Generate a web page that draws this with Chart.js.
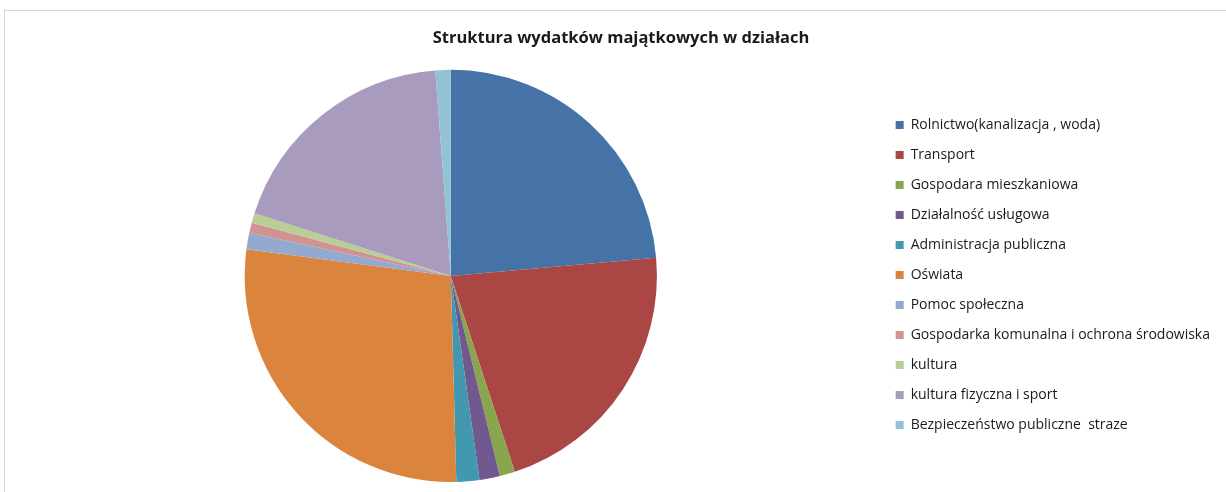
<!DOCTYPE html>
<html>
<head>
<meta charset="utf-8">
<script src="https://cdn.jsdelivr.net/npm/chart.js@4/dist/chart.umd.min.js"></script>
<style>
  html, body { margin: 0; padding: 0; background: #fff; }
  #wrap { position: relative; width: 1226px; height: 492px; }
  #frame { position: absolute; left: 4px; top: 10px; right: 0; bottom: 0; border-top: 1px solid #d4d4d4; border-left: 1px solid #d4d4d4; pointer-events: none; }
  canvas { position: absolute; left: 0; top: 0; }
</style>
</head>
<body>
<div id="wrap">
  <canvas id="c" width="1226" height="492"></canvas>
  <div id="frame"></div>
</div>
<script>
const title = 'Struktura wydatków majątkowych w działach';
const categories = [
  'Rolnictwo(kanalizacja , woda)',
  'Transport',
  'Gospodara mieszkaniowa',
  'Działalność usługowa',
  'Administracja publiczna',
  'Oświata',
  'Pomoc społeczna',
  'Gospodarka komunalna i ochrona środowiska',
  'kultura',
  'kultura fizyczna i sport',
  'Bezpieczeństwo publiczne  straze'
];
const shares = [23.6, 21.4, 1.2, 1.6, 1.8, 27.5, 1.3, 0.8, 0.75, 18.9, 1.2];
const colors = ['#4572A7', '#AA4643', '#89A54E', '#71588F', '#4198AF', '#DB843D', '#93A9CF', '#D19392', '#B9CD96', '#A99BBD', '#92C3D4'];

new Chart(document.getElementById('c'), {
  type: 'pie',
  data: {
    labels: categories,
    datasets: [{ data: shares, backgroundColor: colors, borderWidth: 0 }]
  },
  options: {
    responsive: false,
    animation: false,
    layout: { padding: { top: 18, bottom: 10, left: 22, right: 6 } },
    plugins: {
      tooltip: { enabled: false },
      title: {
        display: true,
        text: title,
        color: '#1a1a1a',
        font: { family: 'Open Sans', size: 16.5, weight: 'bold' },
        padding: { top: 10, bottom: 22 }
      },
      legend: {
        position: 'right',
        title: {
          display: true,
          text: ' ',
          font: { size: 1 },
          padding: { top: 49, bottom: 0 }
        },
        labels: {
          boxWidth: 8,
          boxHeight: 8,
          padding: 16,
          color: '#1a1a1a',
          font: { family: 'Open Sans', size: 14 }
        }
      }
    }
  }
});
</script>
</body>
</html>
